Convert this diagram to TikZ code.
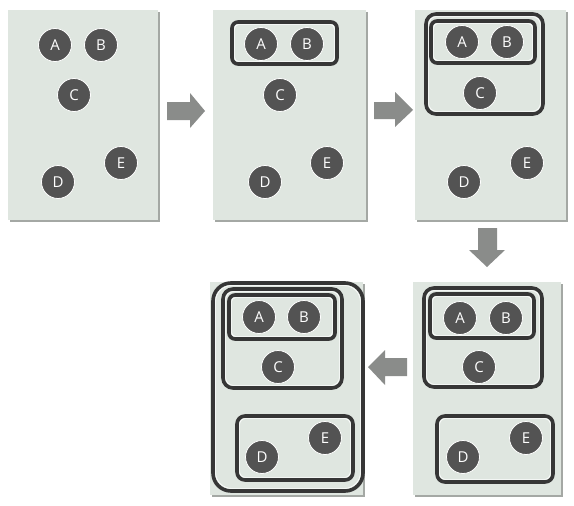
\documentclass[tikz,border=0pt]{standalone}
\usepackage{fontspec}
\setsansfont{Open Sans}
\definecolor{panelbg}{HTML}{DFE6E0}
\definecolor{shadowgray}{HTML}{A4A8A4}
\definecolor{ballgray}{HTML}{535353}
\definecolor{boxgray}{HTML}{363636}
\definecolor{arrowgray}{HTML}{8A8C8A}
\newcommand{\mypanel}[4]{%
  \fill[shadowgray] (#1+2,#2+2) rectangle (#3+2,#4+2);
  \fill[panelbg] (#1,#2) rectangle (#3,#4);}
\newcommand{\grpbox}[5]{%
  \draw[grp, rounded corners=#5pt] (#1,#2) rectangle (#3,#4);
  \draw[grpin, rounded corners=#5pt-2pt] (#1+2.6,#2+2.6) rectangle (#3-2.6,#4-2.6);}
\begin{document}
\begin{tikzpicture}[x=1pt,y=-1pt,
  ball/.style={circle, fill=ballgray, draw=white, line width=0.8pt, minimum size=33pt,
    inner sep=0pt, text=white, font=\sffamily\fontsize{15}{15}\selectfont},
  grp/.style={draw=boxgray, line width=3.6pt},
  grpin/.style={draw=white, line width=0.6pt},
  bigarrow/.style={fill=arrowgray}]
\useasboundingbox (0,0) rectangle (574,506);
\fill[white] (0,0) rectangle (574,506);
% panels
\mypanel{8}{10}{158}{220}
\mypanel{213}{10}{366}{220}
\mypanel{415}{10}{566}{220}
\mypanel{210}{282}{363}{495}
\mypanel{413}{282}{561}{495}
% groups
\grpbox{232}{22}{337}{64}{6}
\grpbox{426}{14}{543}{114}{10}
\grpbox{431}{21}{535}{63}{6}
\grpbox{424}{288}{542}{387}{10}
\grpbox{430}{294}{534}{338}{6}
\grpbox{437}{416}{553}{482}{8}
\grpbox{213}{283}{363}{491}{18}
\grpbox{223}{289}{342}{388}{10}
\grpbox{229}{295}{335}{339}{6}
\grpbox{237}{416}{353}{480}{8}
% panel 1
\node[ball] (a1) at (55,45) {A};
\node[ball] (b1) at (101,45) {B};
\node[ball] (c1) at (74,95) {C};
\node[ball] (d1) at (58,182) {D};
\node[ball] (e1) at (121,163) {E};
% panel 2
\node[ball] (a2) at (261,44) {A};
\node[ball] (b2) at (307,44) {B};
\node[ball] (c2) at (280,95) {C};
\node[ball] (d2) at (265,182) {D};
\node[ball] (e2) at (327,163) {E};
% panel 3
\node[ball] (a3) at (462,42) {A};
\node[ball] (b3) at (507,42) {B};
\node[ball] (c3) at (480,93) {C};
\node[ball] (d3) at (464,182) {D};
\node[ball] (e3) at (527,163) {E};
% panel 5
\node[ball] (a5) at (460,318) {A};
\node[ball] (b5) at (506,318) {B};
\node[ball] (c5) at (479,367) {C};
\node[ball] (d5) at (463,457) {D};
\node[ball] (e5) at (526,438) {E};
% panel 4
\node[ball] (a4) at (259,317) {A};
\node[ball] (b4) at (304,317) {B};
\node[ball] (c4) at (278,367) {C};
\node[ball] (d4) at (262,457) {D};
\node[ball] (e4) at (325,438) {E};
% arrows
\fill[bigarrow] (167,102) -- (190,102) -- (190,93) -- (205,111) -- (190,128) -- (190,120) -- (167,120) -- cycle;
\fill[bigarrow] (374,102) -- (395,102) -- (395,92) -- (413,110) -- (395,127) -- (395,119) -- (374,119) -- cycle;
\fill[bigarrow] (478,228) -- (497,228) -- (497,250) -- (505,250) -- (487,267) -- (469,250) -- (478,250) -- cycle;
\fill[bigarrow] (407,358) -- (385,358) -- (385,350) -- (368,367) -- (385,385) -- (385,376) -- (407,376) -- cycle;
\end{tikzpicture}
\end{document}
